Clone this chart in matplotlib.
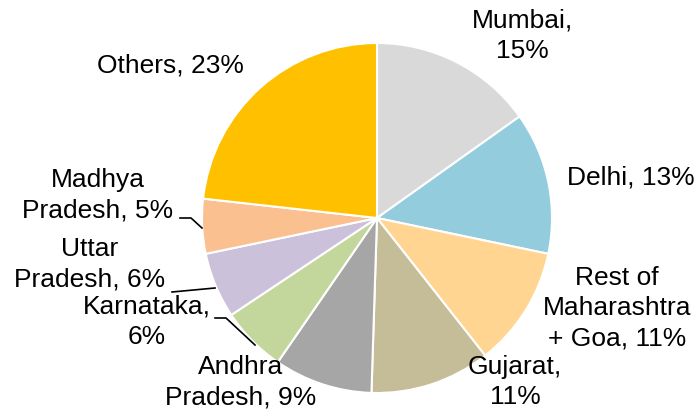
import matplotlib
matplotlib.use("Agg")
import matplotlib.pyplot as plt

plt.rcParams['font.family'] = ['Liberation Sans', 'DejaVu Sans']

categories = ["Mumbai", "Delhi", "Rest of\nMaharashtra\n+ Goa", "Gujarat", "Andhra\nPradesh",
              "Karnataka", "Uttar\nPradesh", "Madhya\nPradesh", "Others"]
values = [15, 13, 11, 11, 9, 6, 6, 5, 23]
colors = ["#D9D9D9", "#93CDDD", "#FFD591", "#C4BD97", "#A6A6A6",
          "#C3D69B", "#CCC1DA", "#FAC090", "#FFC000"]
label_texts = ["Mumbai,\n15%", "Delhi, 13%", "Rest of\nMaharashtra\n+ Goa, 11%", "Gujarat,\n11%",
               "Andhra\nPradesh, 9%", "Karnataka,\n6%", "Uttar\nPradesh, 6%", "Madhya\nPradesh, 5%",
               "Others, 23%"]

W, H = 700, 411
cx, cy, R = 377, 218, 175
fig = plt.figure(figsize=(W / 100, H / 100), dpi=100)
ax = fig.add_axes([(cx - R) / W, (H - cy - R) / H, 2 * R / W, 2 * R / H])
ax.pie(values, colors=colors, startangle=90, counterclock=False,
       wedgeprops=dict(edgecolor="white", linewidth=1.5))
ax.set_xlim(-1, 1)
ax.set_ylim(-1, 1)
ax.set_aspect("equal")
ax.axis("off")

def d(px, py):
    return ((px - cx) / R, (cy - py) / R)

label_pos = [(522, 36), (631, 177), (617, 308), (515, 382), (241, 382),
             (147, 322), (90, 264), (98, 195), (170, 65)]
for txt, (px, py) in zip(label_texts, label_pos):
    x, y = d(px, py)
    ax.text(x, y, txt, ha="center", va="center", fontsize=19, linespacing=1.34,
            color="black", clip_on=False)

leaders = [
    [(180, 218), (191, 218), (202, 228)],
    [(172, 292), (215, 288)],
    [(215, 318), (226, 318), (255, 345)],
]
for pts in leaders:
    xs, ys = zip(*[d(px, py) for px, py in pts])
    ax.plot(xs, ys, color="black", linewidth=1.2, clip_on=False)

fig.savefig("out.png", dpi=100)
